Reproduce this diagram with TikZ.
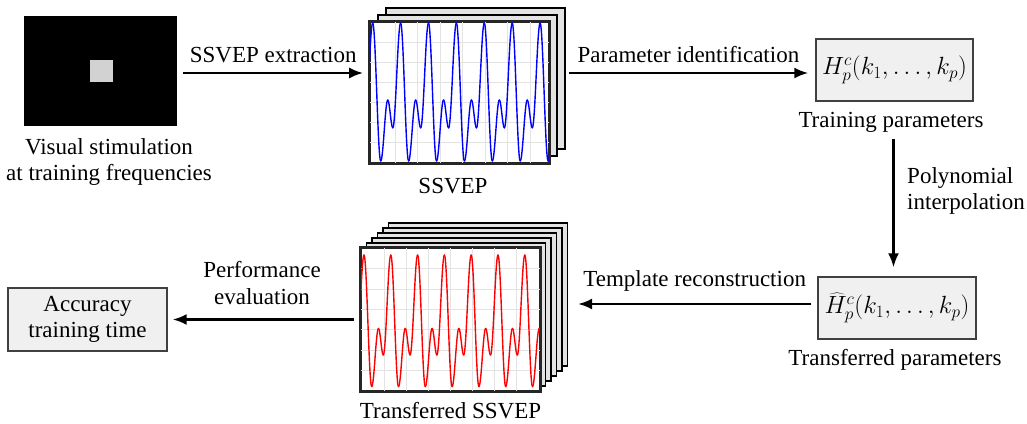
\documentclass[tikz,border=0pt]{standalone}
\usepackage{fontspec}
\setmainfont{Liberation Serif}
\usetikzlibrary{arrows.meta,calc}

% one Bezier piece of the waveform, from fraction #1 (level #2) to fraction #3 (level #4)
\newcommand{\wseg}[4]{%
  \draw[wave] ({\wx+(#1)*\wp},{\wy-(#2)*\wa})
    .. controls ({\wx+((#1)+0.3642*((#3)-(#1)))*\wp},{\wy-(#2)*\wa})
    and ({\wx+((#3)-0.3642*((#3)-(#1)))*\wp},{\wy-(#4)*\wa})
    .. ({\wx+(#3)*\wp},{\wy-(#4)*\wa});}

% periodic SSVEP-like waveform: #1 first peak x, #2 period, #3 centre y,
% #4 half amplitude, #5 colour, #6 last period index
\newcommand{\ssvepwave}[6]{%
  \foreach \k in {-1,...,#6}{%
    \pgfmathsetmacro\wx{#1+\k*#2}%
    \def\wp{#2}\def\wy{#3}\def\wa{#4}%
    \tikzset{wave/.style={draw=#5, line width=1.4pt, line cap=round, line join=round}}%
    \wseg{0}{1}{0.287}{-1}%
    \wseg{0.287}{-1}{0.54}{-0.116}%
    \wseg{0.54}{-0.116}{0.72}{-0.52}%
    \wseg{0.72}{-0.52}{1}{1}%
  }}

\begin{document}
\begin{tikzpicture}[x=1pt,y=-1pt,
  lbl/.style={font=\fontsize{23}{26.5}\selectfont, align=center, inner sep=0pt},
  flow/.style={line width=2.4pt, -{Latex[length=14pt,width=11pt]}},
  sheet/.style={draw=black, line width=1.1pt, fill=gray!22, inner sep=0pt,
                minimum width=179pt},
  plotframe/.style={draw=black!85, line width=1.6pt, fill=white, inner sep=0pt,
                minimum width=179pt},
  gridline/.style={draw=gray!22, line width=0.6pt},
  parbox/.style={draw=black!75, line width=1.4pt, fill=gray!12, inner sep=0pt},
  mathtext/.style={font=\fontsize{24}{27}\selectfont},
]
\useasboundingbox (0,0) rectangle (1027,423);

% ---------- visual stimulus ----------
\node[fill=black, inner sep=0pt, minimum width=153pt, minimum height=110pt] (stim) at (100.5,71) {};
\node[fill=gray!35, inner sep=0pt, minimum width=23pt, minimum height=22pt] (flash) at (101.5,71) {};
\node[lbl] (stimlbl) at (109,162) {Visual stimulation\\at training frequencies};

% ---------- SSVEP (training) ----------
\node[sheet, minimum height=141pt] (bback2) at (475.5,78.5) {};
\node[sheet, minimum height=141pt] (bback1) at (467.5,85.5) {};
\node[plotframe, minimum height=141pt] (bfront) at (459.5,92.5) {};
\begin{scope}
  \clip (bfront.south west) rectangle (bfront.north east);
  \foreach \gx in {0,...,6} \draw[gridline] ({395+22.5*\gx},22) -- ({395+22.5*\gx},163);
  \foreach \gy in {1,...,6} \draw[gridline] (370,{22+20*\gy}) -- (549,{22+20*\gy});
  \ssvepwave{372.7}{27.9}{92}{69}{blue}{7}
\end{scope}
\draw[draw=black!85, line width=1.6pt] (bfront.south west) rectangle (bfront.north east);
\node[lbl, anchor=base] (ssveplbl) at (453,193) {SSVEP};

% ---------- parameter boxes ----------
\node[parbox, mathtext, minimum width=157pt, minimum height=62pt] (param) at (894.5,70)
  {$H_p^c(k_1,\ldots,k_p)$};
\node[lbl, anchor=base] (trainlbl) at (891,127) {Training parameters};

\node[parbox, mathtext, minimum width=158pt, minimum height=62pt] (tparam) at (897,308)
  {$\widehat{H}_p^c(k_1,\ldots,k_p)$};
\node[lbl, anchor=base] (tparamlbl) at (895,365) {Transferred parameters};

% ---------- transferred SSVEP ----------
\foreach \k in {5,4,...,1}
  \node[sheet, minimum height=143pt] (rback\k) at ({450.5+5.5*\k},{319.5-5*\k}) {};
\node[plotframe, minimum height=143pt] (rfront) at (450.5,319.5) {};
\begin{scope}
  \clip (rfront.south west) rectangle (rfront.north east);
  \foreach \gx in {0,...,6} \draw[gridline] ({384+22*\gx},248) -- ({384+22*\gx},391);
  \foreach \gy in {1,...,6} \draw[gridline] (361,{248+20.4*\gy}) -- (540,{248+20.4*\gy});
  \ssvepwave{364}{26.8}{320.8}{65.8}{red}{7}
\end{scope}
\draw[draw=black!85, line width=1.6pt] (rfront.south west) rectangle (rfront.north east);
\node[lbl, anchor=base] (tssveplbl) at (450.5,418) {Transferred SSVEP};

% ---------- result ----------
\node[parbox, lbl, minimum width=159pt, minimum height=63pt] (acc) at (87.5,319.5)
  {Accuracy\\training time};

% ---------- connectors ----------
\coordinate (a1s) at ($(stim.east)+(6,2)$);
\draw[flow] (a1s) -- ($(bfront.west |- a1s)+(-6,0)$)
  node[lbl, midway, above=9pt] (l1) {SSVEP extraction};

\coordinate (a2s) at ($(bback2.east |- param.west)+(3,3)$);
\draw[flow] (a2s) -- ($(param.west |- a2s)+(-7,0)$)
  node[lbl, midway, above=9pt] (l2) {Parameter identification};

\draw[flow] ($(param.south |- trainlbl.south)+(-1,7)$) -- ($(param.south |- tparam.north)+(-1,-9)$);
\node[lbl, align=left, anchor=west] (l3) at (907,191) {Polynomial\\interpolation};

\coordinate (a4s) at ($(tparam.west)+(-6,-4)$);
\draw[flow] (a4s) -- ($(rback5.east |- a4s)+(10,0)$)
  node[lbl, midway, above=11pt] (l4) {Template reconstruction};

\draw[flow] ($(rfront.west)+(-6,0)$) -- ($(acc.east)+(5,0)$);
\node[lbl] (l5) at (262,283) {Performance\\evaluation};

\end{tikzpicture}
\end{document}
